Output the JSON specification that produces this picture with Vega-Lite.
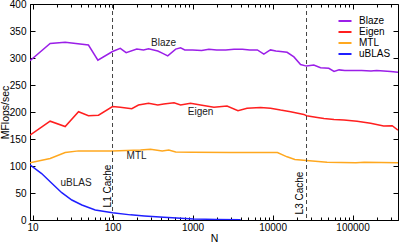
{
  "$schema": "https://vega.github.io/schema/vega-lite/v6.json",
  "width": 368,
  "height": 216,
  "autosize": {"type": "none"},
  "padding": {"left": 30, "top": 4, "right": 1, "bottom": 24},
  "config": {
    "font": "Liberation Sans",
    "view": {"stroke": "black", "strokeWidth": 1},
    "axis": {
      "grid": false,
      "domainColor": "black",
      "tickColor": "black",
      "labelColor": "black",
      "titleColor": "black",
      "labelFontSize": 10,
      "titleFontSize": 10.5,
      "titleFontWeight": "normal",
      "labelFont": "Liberation Sans",
      "titleFont": "Liberation Sans"
    },
    "legend": {
      "orient": "none",
      "legendX": 309,
      "legendY": 11,
      "padding": 0,
      "symbolType": "M-1.3,0L1.3,0",
      "symbolStrokeWidth": 2,
      "symbolSize": 100,
      "labelFontSize": 10,
      "labelFont": "Liberation Sans",
      "labelColor": "black",
      "rowPadding": 0,
      "labelOffset": 8,
      "title": null
    }
  },
  "datasets": {
    "perf": [
      {"series": "Blaze", "N": 9.3, "v": 295}, {"series": "Blaze", "N": 16.6, "v": 327}, {"series": "Blaze", "N": 25.6, "v": 329}, {"series": "Blaze", "N": 50, "v": 324}, {"series": "Blaze", "N": 65.6, "v": 296}, {"series": "Blaze", "N": 100, "v": 312}, {"series": "Blaze", "N": 125, "v": 318}, {"series": "Blaze", "N": 148, "v": 310}, {"series": "Blaze", "N": 201, "v": 316.5}, {"series": "Blaze", "N": 244, "v": 315}, {"series": "Blaze", "N": 282, "v": 317}, {"series": "Blaze", "N": 368, "v": 313}, {"series": "Blaze", "N": 418, "v": 309}, {"series": "Blaze", "N": 490, "v": 304}, {"series": "Blaze", "N": 616, "v": 316.5}, {"series": "Blaze", "N": 709, "v": 319}, {"series": "Blaze", "N": 800, "v": 315}, {"series": "Blaze", "N": 1000, "v": 315}, {"series": "Blaze", "N": 1300, "v": 314}, {"series": "Blaze", "N": 1600, "v": 316}, {"series": "Blaze", "N": 2000, "v": 315}, {"series": "Blaze", "N": 2600, "v": 315}, {"series": "Blaze", "N": 3300, "v": 316}, {"series": "Blaze", "N": 4200, "v": 316}, {"series": "Blaze", "N": 5200, "v": 315}, {"series": "Blaze", "N": 6460, "v": 315}, {"series": "Blaze", "N": 7790, "v": 307}, {"series": "Blaze", "N": 8970, "v": 313}, {"series": "Blaze", "N": 9440, "v": 315}, {"series": "Blaze", "N": 11000, "v": 313}, {"series": "Blaze", "N": 12600, "v": 312}, {"series": "Blaze", "N": 15200, "v": 310.5}, {"series": "Blaze", "N": 18500, "v": 302}, {"series": "Blaze", "N": 22400, "v": 288}, {"series": "Blaze", "N": 26600, "v": 285}, {"series": "Blaze", "N": 32800, "v": 287}, {"series": "Blaze", "N": 39800, "v": 282}, {"series": "Blaze", "N": 50500, "v": 281}, {"series": "Blaze", "N": 58700, "v": 275}, {"series": "Blaze", "N": 67900, "v": 278}, {"series": "Blaze", "N": 80000, "v": 277}, {"series": "Blaze", "N": 100000, "v": 277}, {"series": "Blaze", "N": 130000, "v": 277}, {"series": "Blaze", "N": 170000, "v": 276}, {"series": "Blaze", "N": 200000, "v": 277}, {"series": "Blaze", "N": 245000, "v": 276}, {"series": "Blaze", "N": 300000, "v": 275}, {"series": "Blaze", "N": 370000, "v": 273.5},
      {"series": "Eigen", "N": 9.3, "v": 157}, {"series": "Eigen", "N": 16.6, "v": 183}, {"series": "Eigen", "N": 25.6, "v": 173}, {"series": "Eigen", "N": 37.6, "v": 200.5}, {"series": "Eigen", "N": 50, "v": 193}, {"series": "Eigen", "N": 66.8, "v": 194}, {"series": "Eigen", "N": 100, "v": 210}, {"series": "Eigen", "N": 125, "v": 209}, {"series": "Eigen", "N": 174, "v": 206}, {"series": "Eigen", "N": 211, "v": 213}, {"series": "Eigen", "N": 282, "v": 216}, {"series": "Eigen", "N": 368, "v": 213}, {"series": "Eigen", "N": 437, "v": 215}, {"series": "Eigen", "N": 587, "v": 217}, {"series": "Eigen", "N": 709, "v": 213}, {"series": "Eigen", "N": 944, "v": 216}, {"series": "Eigen", "N": 1259, "v": 213}, {"series": "Eigen", "N": 1850, "v": 209}, {"series": "Eigen", "N": 2700, "v": 211}, {"series": "Eigen", "N": 3700, "v": 202.5}, {"series": "Eigen", "N": 4800, "v": 207}, {"series": "Eigen", "N": 7080, "v": 208.5}, {"series": "Eigen", "N": 9440, "v": 207}, {"series": "Eigen", "N": 12600, "v": 203.5}, {"series": "Eigen", "N": 16800, "v": 200.5}, {"series": "Eigen", "N": 24600, "v": 195.5}, {"series": "Eigen", "N": 26600, "v": 193}, {"series": "Eigen", "N": 36300, "v": 190}, {"series": "Eigen", "N": 43900, "v": 188}, {"series": "Eigen", "N": 58700, "v": 186}, {"series": "Eigen", "N": 78000, "v": 185}, {"series": "Eigen", "N": 114000, "v": 183}, {"series": "Eigen", "N": 168000, "v": 179}, {"series": "Eigen", "N": 245000, "v": 174}, {"series": "Eigen", "N": 313000, "v": 174.5}, {"series": "Eigen", "N": 370000, "v": 166.5},
      {"series": "MTL", "N": 9.3, "v": 106}, {"series": "MTL", "N": 16.6, "v": 114}, {"series": "MTL", "N": 25.6, "v": 125}, {"series": "MTL", "N": 37.6, "v": 128}, {"series": "MTL", "N": 100, "v": 127.8}, {"series": "MTL", "N": 224, "v": 129.6}, {"series": "MTL", "N": 298, "v": 131}, {"series": "MTL", "N": 418, "v": 127.8}, {"series": "MTL", "N": 505, "v": 129.6}, {"series": "MTL", "N": 616, "v": 126}, {"series": "MTL", "N": 1000, "v": 125.5}, {"series": "MTL", "N": 3000, "v": 125}, {"series": "MTL", "N": 11500, "v": 125}, {"series": "MTL", "N": 15200, "v": 117}, {"series": "MTL", "N": 19000, "v": 112}, {"series": "MTL", "N": 26600, "v": 110}, {"series": "MTL", "N": 48000, "v": 107}, {"series": "MTL", "N": 110000, "v": 106}, {"series": "MTL", "N": 140000, "v": 107}, {"series": "MTL", "N": 370000, "v": 106},
      {"series": "uBLAS", "N": 9.3, "v": 102}, {"series": "uBLAS", "N": 13, "v": 86}, {"series": "uBLAS", "N": 17.4, "v": 68}, {"series": "uBLAS", "N": 23.2, "v": 50.6}, {"series": "uBLAS", "N": 31, "v": 37}, {"series": "uBLAS", "N": 41.4, "v": 27.8}, {"series": "uBLAS", "N": 60.8, "v": 18.5}, {"series": "uBLAS", "N": 100, "v": 13.5}, {"series": "uBLAS", "N": 168, "v": 9.5}, {"series": "uBLAS", "N": 250, "v": 7.5}, {"series": "uBLAS", "N": 437, "v": 5}, {"series": "uBLAS", "N": 1030, "v": 2}, {"series": "uBLAS", "N": 2000, "v": 1}, {"series": "uBLAS", "N": 4000, "v": 0.5}
    ],
    "caches": [
      {"name": "L1 Cache", "N": 100, "tN": 86.6, "tv": 63},
      {"name": "L3 Cache", "N": 26600, "tN": 21800, "tv": 50}
    ],
    "labels": [
      {"label": "Blaze", "N": 434, "v": 328},
      {"label": "Eigen", "N": 1259, "v": 200},
      {"label": "MTL", "N": 200, "v": 119},
      {"label": "uBLAS", "N": 35, "v": 68.5}
    ]
  },
  "layer": [
    {
      "data": {"name": "perf"},
      "mark": {"type": "line", "strokeWidth": 1.5, "clip": true},
      "encoding": {
        "x": {
          "field": "N", "type": "quantitative",
          "scale": {"type": "log", "domain": [9.3, 370000], "nice": false},
          "axis": {
            "orient": "bottom", "title": "N", "values": [10, 100, 1000, 10000, 100000],
            "format": "d", "tickSize": -5, "labelPadding": 7, "titlePadding": 1, "labelFlush": false
          }
        },
        "y": {
          "field": "v", "type": "quantitative",
          "scale": {"domain": [0, 400], "nice": false, "zero": false},
          "axis": {
            "orient": "left", "title": "MFlops/sec", "values": [0, 50, 100, 150, 200, 250, 300, 350, 400],
            "tickSize": -5, "labelPadding": 9,
            "titleX": -25, "titleY": 108, "titleAngle": 270, "titleAlign": "center", "titleBaseline": "middle"
          }
        },
        "color": {
          "field": "series", "type": "nominal",
          "scale": {"domain": ["Blaze", "Eigen", "MTL", "uBLAS"], "range": ["#9b1fe8", "#ff1f1f", "#ffa81f", "#1f1fff"]},
          "legend": {}
        }
      }
    },
    {
      "data": {"name": "caches"},
      "mark": {"type": "rule", "color": "#444444", "strokeDash": [4, 3], "strokeWidth": 1},
      "encoding": {
        "x": {
          "field": "N", "type": "quantitative",
          "scale": {"type": "log", "domain": [9.3, 370000], "nice": false},
          "axis": {
            "orient": "bottom", "title": null, "labels": false, "domain": false, "tickSize": -3,
            "values": [20, 30, 40, 50, 60, 70, 80, 90, 200, 300, 400, 500, 600, 700, 800, 900, 2000, 3000, 4000, 5000, 6000, 7000, 8000, 9000, 20000, 30000, 40000, 50000, 60000, 70000, 80000, 90000, 200000, 300000]
          }
        }
      }
    },
    {
      "data": {"name": "caches"},
      "mark": {"type": "text", "angle": 270, "fontSize": 10, "color": "black", "font": "Liberation Sans"},
      "encoding": {
        "x": {
          "field": "tN", "type": "quantitative",
          "scale": {"type": "log", "domain": [9.3, 370000], "nice": false},
          "axis": {"orient": "top", "title": null, "labels": false, "domain": false, "tickSize": -5, "values": [10, 100, 1000, 10000, 100000]}
        },
        "y": {
          "field": "tv", "type": "quantitative",
          "scale": {"domain": [0, 400], "nice": false, "zero": false},
          "axis": {"orient": "right", "title": null, "labels": false, "domain": false, "tickSize": -5, "values": [0, 50, 100, 150, 200, 250, 300, 350, 400]}
        },
        "text": {"field": "name"}
      }
    },
    {
      "data": {"name": "labels"},
      "mark": {"type": "text", "fontSize": 10, "color": "#222222", "font": "Liberation Sans"},
      "encoding": {
        "x": {
          "field": "N", "type": "quantitative",
          "scale": {"type": "log", "domain": [9.3, 370000], "nice": false},
          "axis": {
            "orient": "top", "title": null, "labels": false, "domain": false, "tickSize": -3,
            "values": [20, 30, 40, 50, 60, 70, 80, 90, 200, 300, 400, 500, 600, 700, 800, 900, 2000, 3000, 4000, 5000, 6000, 7000, 8000, 9000, 20000, 30000, 40000, 50000, 60000, 70000, 80000, 90000, 200000, 300000]
          }
        },
        "y": {
          "field": "v", "type": "quantitative",
          "scale": {"domain": [0, 400], "nice": false, "zero": false},
          "axis": null
        },
        "text": {"field": "label"}
      }
    }
  ],
  "resolve": {"axis": {"x": "independent", "y": "independent"}}
}
